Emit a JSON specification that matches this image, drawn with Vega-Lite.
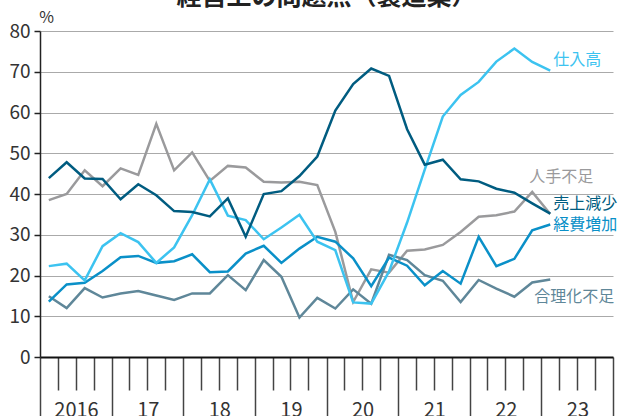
{
  "$schema": "https://vega.github.io/schema/vega-lite/v6.json",
  "width": 573,
  "height": 326,
  "autosize": {"type": "none"},
  "padding": {"left": 40, "top": 31, "right": 7, "bottom": 59},
  "title": {"text": "経営上の問題点（製造業）", "anchor": "middle", "frame": "group", "orient": "top", "baseline": "bottom", "offset": 1, "dy": 27, "fontSize": 25, "fontWeight": "bold", "color": "#222", "font": "Noto Sans CJK JP"},
  "config": {"font": "Noto Sans CJK JP", "view": {"stroke": null}},
  "data": {"values": [
    {"q": "2016/02/15", "仕入高": 22.3, "人手不足": 38.5, "売上減少": 43.9, "経費増加": 13.6, "合理化不足": 14.9},
    {"q": "2016/05/16", "仕入高": 22.9, "人手不足": 40.0, "売上減少": 47.8, "経費増加": 17.8, "合理化不足": 12.0},
    {"q": "2016/08/16", "仕入高": 18.8, "人手不足": 45.8, "売上減少": 43.8, "経費増加": 18.2, "合理化不足": 16.9},
    {"q": "2016/11/15", "仕入高": 27.2, "人手不足": 41.9, "売上減少": 43.7, "経費増加": 21.1, "合理化不足": 14.6},
    {"q": "2017/02/15", "仕入高": 30.4, "人手不足": 46.3, "売上減少": 38.7, "経費増加": 24.5, "合理化不足": 15.6},
    {"q": "2017/05/16", "仕入高": 28.2, "人手不足": 44.7, "売上減少": 42.4, "経費増加": 24.8, "合理化不足": 16.2},
    {"q": "2017/08/16", "仕入高": 23.1, "人手不足": 57.2, "売上減少": 39.7, "経費増加": 23.1, "合理化不足": 15.1},
    {"q": "2017/11/15", "仕入高": 26.9, "人手不足": 45.8, "売上減少": 35.8, "経費増加": 23.5, "合理化不足": 14.0},
    {"q": "2018/02/15", "仕入高": 34.8, "人手不足": 50.2, "売上減少": 35.6, "経費増加": 25.2, "合理化不足": 15.6},
    {"q": "2018/05/16", "仕入高": 43.6, "人手不足": 43.2, "売上減少": 34.5, "経費増加": 20.8, "合理化不足": 15.6},
    {"q": "2018/08/16", "仕入高": 34.7, "人手不足": 46.9, "売上減少": 38.9, "経費増加": 21.0, "合理化不足": 20.1},
    {"q": "2018/11/15", "仕入高": 33.6, "人手不足": 46.5, "売上減少": 29.5, "経費増加": 25.4, "合理化不足": 16.4},
    {"q": "2019/02/15", "仕入高": 28.9, "人手不足": 43.0, "売上減少": 40.0, "経費増加": 27.3, "合理化不足": 23.8},
    {"q": "2019/05/16", "仕入高": 31.8, "人手不足": 42.8, "売上減少": 40.7, "経費増加": 23.1, "合理化不足": 19.7},
    {"q": "2019/08/16", "仕入高": 34.9, "人手不足": 43.0, "売上減少": 44.4, "経費増加": 26.6, "合理化不足": 9.7},
    {"q": "2019/11/15", "仕入高": 28.3, "人手不足": 42.2, "売上減少": 49.2, "経費増加": 29.5, "合理化不足": 14.5},
    {"q": "2020/02/15", "仕入高": 26.2, "人手不足": 30.7, "売上減少": 60.5, "経費増加": 28.3, "合理化不足": 11.9},
    {"q": "2020/05/16", "仕入高": 13.4, "人手不足": 13.5, "売上減少": 67.0, "経費増加": 24.2, "合理化不足": 16.6},
    {"q": "2020/08/16", "仕入高": 13.1, "人手不足": 21.5, "売上減少": 70.8, "経費増加": 17.4, "合理化不足": 13.1},
    {"q": "2020/11/15", "仕入高": 21.0, "人手不足": 20.7, "売上減少": 69.0, "経費増加": 24.4, "合理化不足": 25.1},
    {"q": "2021/02/15", "仕入高": 33.0, "人手不足": 26.1, "売上減少": 55.9, "経費増加": 22.4, "合理化不足": 23.8},
    {"q": "2021/05/16", "仕入高": 46.0, "人手不足": 26.4, "売上減少": 47.2, "経費増加": 17.6, "合理化不足": 20.1},
    {"q": "2021/08/16", "仕入高": 59.0, "人手不足": 27.5, "売上減少": 48.4, "経費増加": 21.1, "合理化不足": 18.7},
    {"q": "2021/11/15", "仕入高": 64.3, "人手不足": 30.7, "売上減少": 43.6, "経費増加": 18.0, "合理化不足": 13.5},
    {"q": "2022/02/15", "仕入高": 67.5, "人手不足": 34.4, "売上減少": 43.1, "経費増加": 29.5, "合理化不足": 18.9},
    {"q": "2022/05/16", "仕入高": 72.5, "人手不足": 34.8, "売上減少": 41.3, "経費増加": 22.3, "合理化不足": 16.8},
    {"q": "2022/08/16", "仕入高": 75.7, "人手不足": 35.7, "売上減少": 40.3, "経費増加": 24.1, "合理化不足": 14.8},
    {"q": "2022/11/15", "仕入高": 72.4, "人手不足": 40.5, "売上減少": 37.7, "経費増加": 31.1, "合理化不足": 18.3},
    {"q": "2023/02/15", "仕入高": 70.3, "人手不足": 35.1, "売上減少": 35.2, "経費増加": 32.5, "合理化不足": 19.0}
  ]},
  "transform": [{"fold": ["人手不足", "合理化不足", "経費増加", "仕入高", "売上減少"], "as": ["s", "v"]}],
  "encoding": {
    "x": {
      "field": "q", "type": "temporal",
      "scale": {"domain": [{"year": 2016, "month": 1, "date": 1}, {"year": 2024, "month": 1, "date": 1}]},
      "axis": {
        "title": null, "grid": false,
        "tickCount": {"interval": "month", "step": 3},
        "domainColor": "#111", "domainWidth": 2,
        "tickColor": "#444", "tickWidth": 1.5,
        "tickSize": {"condition": {"test": "month(datum.value) === 0", "value": 62}, "value": 33},
        "labelExpr": "month(datum.value) === 0 && year(datum.value) < 2024 ? (year(datum.value) === 2016 ? '2016' : '' + (year(datum.value) % 100)) : ''",
        "labelOffset": 36, "labelPadding": -19, "labelBaseline": "top", "labelAlign": "center",
        "labelFontSize": 20, "labelColor": "#333", "labelFlush": false, "labelOverlap": false, "labelBound": false
      }
    },
    "y": {
      "field": "v", "type": "quantitative",
      "scale": {"domain": [0, 80]},
      "axis": {
        "title": "%", "titleAngle": 0, "titleX": 6, "titleY": -14, "titleAlign": "center", "titleBaseline": "middle",
        "titleFontSize": 16, "titleFontWeight": "normal", "titleColor": "#333",
        "values": [0, 10, 20, 30, 40, 50, 60, 70, 80],
        "grid": true, "gridColor": "#aaaaaa", "gridWidth": 1,
        "domainColor": "#222", "domainWidth": 1.5,
        "tickColor": "#222", "tickSize": 6, "tickWidth": 1.5,
        "labelFontSize": 19, "labelColor": "#333", "labelPadding": 4
      }
    }
  },
  "layer": [
    {
      "mark": {"type": "line", "strokeWidth": 2.5},
      "encoding": {
        "color": {"field": "s", "type": "nominal", "legend": null,
          "scale": {"domain": ["人手不足", "合理化不足", "経費増加", "仕入高", "売上減少"],
                    "range": ["#9a9a9c", "#5f8799", "#0a90c8", "#3cc3f0", "#005c80"]}}
      }
    },
    {
      "transform": [{"filter": "datum.s === '仕入高' && year(datum.q) === 2023"}],
      "mark": {"type": "text", "align": "left", "baseline": "middle", "dx": 3, "dy": -10.5, "fontSize": 16, "color": "#3cc3f0"},
      "encoding": {"text": {"field": "s"}}
    },
    {
      "transform": [{"filter": "datum.s === '人手不足' && year(datum.q) === 2023"}],
      "mark": {"type": "text", "align": "left", "baseline": "middle", "dx": -21, "dy": -37, "fontSize": 16, "color": "#9a9a9c"},
      "encoding": {"text": {"field": "s"}}
    },
    {
      "transform": [{"filter": "datum.s === '売上減少' && year(datum.q) === 2023"}],
      "mark": {"type": "text", "align": "left", "baseline": "middle", "dx": 3, "dy": -9.5, "fontSize": 16, "color": "#005c80"},
      "encoding": {"text": {"field": "s"}}
    },
    {
      "transform": [{"filter": "datum.s === '経費増加' && year(datum.q) === 2023"}],
      "mark": {"type": "text", "align": "left", "baseline": "middle", "dx": 3, "dy": 0, "fontSize": 16, "color": "#0a90c8"},
      "encoding": {"text": {"field": "s"}}
    },
    {
      "transform": [{"filter": "datum.s === '合理化不足' && year(datum.q) === 2023"}],
      "mark": {"type": "text", "align": "left", "baseline": "middle", "dx": -16, "dy": 17, "fontSize": 16, "color": "#5f8799"},
      "encoding": {"text": {"field": "s"}}
    }
  ]
}
